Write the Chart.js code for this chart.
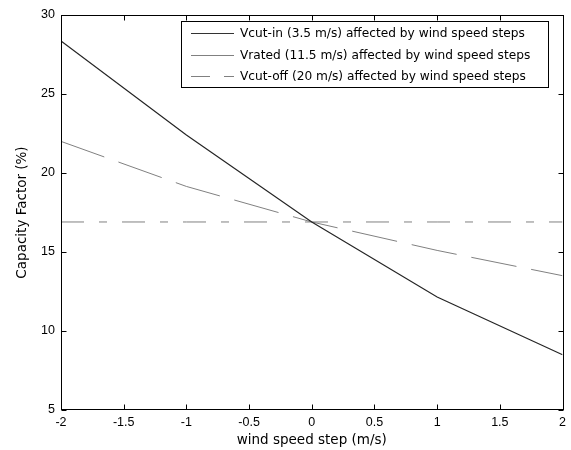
<!DOCTYPE html>
<html><head><meta charset="utf-8">
<script src="https://cdn.jsdelivr.net/npm/chart.js@4.4.0/dist/chart.umd.min.js"></script>
<style>html,body{margin:0;padding:0;background:#fff;}canvas{display:block;background:#fff;}</style>
</head><body>
<canvas id="c" width="571" height="450"></canvas>
<script>
// ---- data ----
const windSteps = [-2, -1, 0, 1, 2];
const vCutIn   = [28.35, 22.4, 16.9, 12.15, 8.5];
const vRated   = [22.0, 19.15, 16.9, 15.1, 13.5];
const vCutOff  = [16.9, 16.9, 16.9, 16.9, 16.9];
const seriesNames = [
  'Vcut-in (3.5 m/s) affected by wind speed steps',
  'Vrated (11.5 m/s) affected by wind speed steps',
  'Vcut-off (20 m/s) affected by wind speed steps'
];
const xTickValues = [-2, -1.5, -1, -0.5, 0, 0.5, 1, 1.5, 2];
const yTickValues = [5, 10, 15, 20, 25, 30];
const xTitle = 'wind speed step (m/s)';
const yTitle = 'Capacity Factor (%)';

const toPts = arr => arr.map((v, i) => ({x: windSteps[i], y: v}));

const tickFont = {family: "'Liberation Sans', Arial, sans-serif", size: 12.5};
const titleFont = {family: "'DejaVu Sans', sans-serif", size: 13.5, lineHeight: 1.2};

const frame = {
  id: 'frame',
  afterDatasetsDraw(chart) {
    const {ctx, chartArea: a, scales: {x, y}} = chart;
    ctx.save();
    ctx.strokeStyle = '#000';
    ctx.lineWidth = 1;
    ctx.setLineDash([]);
    const L = Math.round(a.left) + 0.5, R = Math.round(a.right) + 0.5;
    const T = Math.round(a.top) + 0.5, B = Math.round(a.bottom) - 0.5;
    ctx.strokeRect(L, T, R - L, B - T);
    const tl = 5;
    ctx.beginPath();
    x.ticks.forEach(t => {
      const px = Math.round(x.getPixelForValue(t.value)) + 0.5;
      ctx.moveTo(px, B); ctx.lineTo(px, B - tl);
      ctx.moveTo(px, T); ctx.lineTo(px, T + tl);
    });
    y.ticks.forEach(t => {
      const py = Math.round(y.getPixelForValue(t.value)) + 0.5;
      ctx.moveTo(L, py); ctx.lineTo(L + tl, py);
      ctx.moveTo(R, py); ctx.lineTo(R - tl, py);
    });
    ctx.stroke();
    ctx.restore();
  },
  afterDraw(chart) {
    const {ctx} = chart;
    const box = {l: 181.5, t: 21.5, r: 548.5, b: 87.5};
    ctx.save();
    ctx.fillStyle = '#fff';
    ctx.fillRect(box.l, box.t, box.r - box.l, box.b - box.t);
    ctx.strokeStyle = '#000';
    ctx.lineWidth = 1;
    ctx.strokeRect(box.l, box.t, box.r - box.l, box.b - box.t);
    const rows = [33.5, 55.5, 76.5];
    const samples = [
      {color: '#333', dash: [], w: 1.2},
      {color: '#808080', dash: [], w: 1},
      {color: '#808080', dash: [19, 14], w: 1}
    ];
    ctx.font = "12.2px 'DejaVu Sans', sans-serif";
    ctx.textBaseline = 'middle';
    ctx.textAlign = 'left';
    seriesNames.forEach((name, i) => {
      const s = samples[i];
      ctx.beginPath();
      ctx.strokeStyle = s.color;
      ctx.lineWidth = s.w;
      ctx.setLineDash(s.dash);
      ctx.moveTo(191, rows[i]); ctx.lineTo(234, rows[i]);
      ctx.stroke();
      ctx.setLineDash([]);
      ctx.fillStyle = '#000';
      ctx.fillText(name, 240, rows[i] + 0.5);
    });
    ctx.restore();
  }
};

new Chart(document.getElementById('c'), {
  type: 'line',
  data: {
    datasets: [
      {label: seriesNames[0], data: toPts(vCutIn), borderColor: '#262626', borderWidth: 1.2, pointRadius: 0, fill: false, tension: 0},
      {label: seriesNames[1], data: toPts(vRated), borderColor: '#808080', borderWidth: 1, borderDash: [46, 15], pointRadius: 0, fill: false, tension: 0},
      {label: seriesNames[2], data: toPts(vCutOff), borderColor: '#808080', borderWidth: 1, borderDash: [23, 15, 8, 15], pointRadius: 0, fill: false, tension: 0}
    ]
  },
  options: {
    responsive: false,
    devicePixelRatio: 1,
    animation: false,
    layout: {padding: {top: 15, right: 7, left: 0, bottom: 0}},
    plugins: {legend: {display: false}, tooltip: {enabled: false}},
    scales: {
      x: {
        type: 'linear', min: -2, max: 2,
        afterBuildTicks: s => { s.ticks = xTickValues.map(v => ({value: v})); },
        afterFit: s => { s.height = 40; },
        grid: {display: false, drawTicks: false, tickLength: 0},
        border: {display: false},
        ticks: {color: '#000', font: tickFont, padding: 5, maxRotation: 0, autoSkip: false, callback: v => String(v)},
        title: {display: true, text: xTitle, color: '#000', font: titleFont, padding: {top: 0, bottom: 1.5}}
      },
      y: {
        type: 'linear', min: 5, max: 30,
        afterBuildTicks: s => { s.ticks = yTickValues.map(v => ({value: v})); },
        afterFit: s => { s.width = 61; },
        grid: {display: false, drawTicks: false, tickLength: 0},
        border: {display: false},
        ticks: {color: '#000', font: tickFont, padding: 6, autoSkip: false, callback: v => String(v)},
        title: {display: true, text: yTitle, color: '#000', font: titleFont, padding: {top: 14, bottom: 0}}
      }
    }
  },
  plugins: [frame]
});
</script>
</body></html>
